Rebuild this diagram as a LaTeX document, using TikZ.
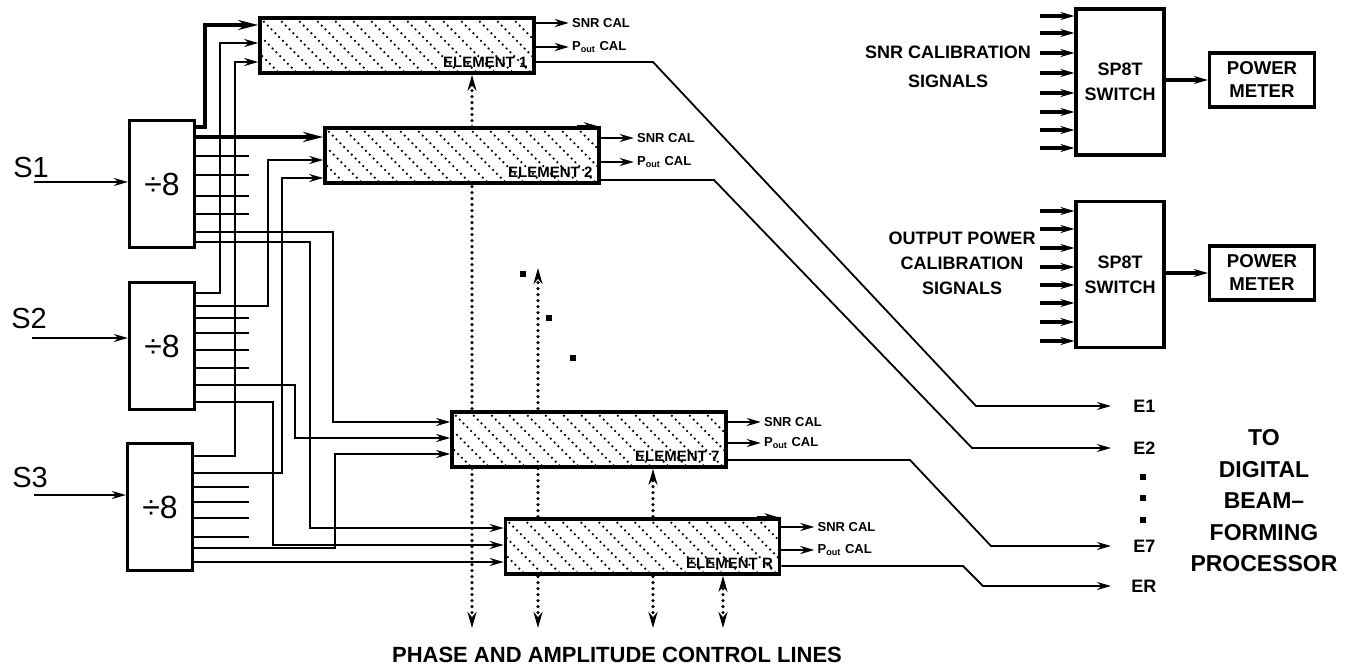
\documentclass[tikz,border=0pt]{standalone}
\usepackage{fontspec}
\setmainfont{Liberation Sans}
\usetikzlibrary{arrows.meta,calc,positioning,backgrounds}
\tikzset{box/.style={draw,line width=1.6pt,fill=white,inner sep=1pt,align=center},
  divider/.style={box,minimum width=32.5pt,minimum height=63.5pt,font=\fontsize{16}{17}\selectfont},
  elem/.style={box,line width=1.8pt,minimum width=137pt,minimum height=27.5pt,
    path picture={\foreach \k in {-90,-72,...,290}
      \draw[line width=1.25pt,line cap=round,dash pattern=on 0pt off 2.7pt]
        ($(path picture bounding box.north west)+(\k,0)$) -- ++(80,80);}},
  swbox/.style={box,minimum width=44pt,minimum height=73pt,font=\bfseries\fontsize{9}{12.5}\selectfont},
  meter/.style={box,minimum width=52.5pt,minimum height=27pt,font=\bfseries\fontsize{9.3}{11.5}\selectfont},
  wire/.style={line width=0.9pt},
  fat/.style={line width=1.7pt},
  arr/.style={-{Stealth[length=7pt,width=4pt]}},
  bigarr/.style={-{Stealth[length=10pt,width=5pt]}},
  ctrl/.style={line width=1.8pt,line cap=round,dash pattern=on 0pt off 3pt,
    {Stealth[length=8pt,width=4.5pt]}-{Stealth[length=8pt,width=4.5pt]}},
  cal/.style={font=\bfseries\fontsize{6.5}{7}\selectfont,anchor=west,inner sep=1pt},
  tag/.style={font=\bfseries\fontsize{7.5}{8}\selectfont,anchor=south east,inner sep=0pt},
  etag/.style={font=\bfseries\fontsize{9}{10}\selectfont,anchor=west,inner sep=0pt},
  sname/.style={font=\fontsize{14.5}{15}\selectfont,inner sep=0pt},
  hint/.style={font=\bfseries\fontsize{9}{14.5}\selectfont,align=center},
  sqdot/.style={fill,minimum size=2.6pt,inner sep=0pt}}
\begin{document}
\begin{tikzpicture}[x=0.5pt,y=-0.5pt]
\useasboundingbox (0,0) rectangle (1355,668);
% power dividers
\node[divider] (d1) at (162,184) {÷8};
\node[divider] (d2) at (162,346) {÷8};
\node[divider] (d3) at (160,507) {÷8};
\node[sname] (s1) at (31,168) {S1};
\node[sname] (s2) at (29,319) {S2};
\node[sname] (s3) at (30,478) {S3};
\draw[wire,line width=1.2pt,arr] ($(d1.west |- 0,182)+(-94,0)$) -- (d1.west |- 0,182);
\draw[wire,line width=1.2pt,arr] ($(d2.west |- 0,338)+(-96,0)$) -- (d2.west |- 0,338);
\draw[wire,line width=1.2pt,arr] ($(d3.west |- 0,495)+(-92,0)$) -- (d3.west |- 0,495);
% element modules
\node[elem] (e1) at (397,45.5) {};
\node[elem] (e2) at (462,155.5) {};
\node[elem] (e7) at (589,439.5) {};
\node[elem] (eR) at (642.5,546.5) {};
\node[tag] (t1) at ($(e1.south east)+(-8,-7)$) {ELEMENT 1};
\node[tag] (t2) at ($(e2.south east)+(-8,-7)$) {ELEMENT 2};
\node[tag] (t7) at ($(e7.south east)+(-8,-7)$) {ELEMENT 7};
\node[tag] (tR) at ($(eR.south east)+(-8,-7)$) {ELEMENT R};
\draw[wire,arr] ($(e2.north east)+(-24,0)$) -- ($(e2.north east)+(-3,0)$);
\draw[wire,arr] ($(eR.north east)+(-24,0)$) -- ($(eR.north east)+(-3,0)$);
% control lines
\begin{scope}[on background layer]
\coordinate (c1) at (472,628);
\coordinate (c2) at (538,628);
\coordinate (c3) at (653,628);
\coordinate (c4) at (723,628);
\draw[ctrl] (c1) -- (c1 |- e1.south);
\draw[ctrl] (c2) -- (538,268);
\draw[ctrl] (c3) -- (c3 |- e7.south);
\draw[ctrl] (c4) -- (c4 |- eR.south);
\end{scope}
% divider 1
\draw[fat,bigarr] (d1.east |- 0,127) -| (205,25) -- (e1.west |- 0,25);
\draw[fat,bigarr] (d1.east |- 0,137) -- (e2.west |- 0,137);
\foreach \y in {156,175,196,214} \draw[wire] (d1.east |- 0,\y) -- ++(53,0);
\draw[wire,arr] (d1.east |- 0,232) -| (333,422) -- (e7.west |- 0,422);
\draw[wire,arr] (d1.east |- 0,242) -| (310,528) -- (eR.west |- 0,528);
% divider 2
\draw[wire,arr] (d2.east |- 0,293) -| (220,43) -- (e1.west |- 0,43);
\draw[wire,arr] (d2.east |- 0,306) -| (268,160) -- (e2.west |- 0,160);
\foreach \y in {318,333,350,368} \draw[wire] (d2.east |- 0,\y) -- ++(53,0);
\draw[wire,arr] (d2.east |- 0,385) -| (295,438) -- (e7.west |- 0,438);
\draw[wire,arr] (d2.east |- 0,402) -| (273,545) -- (eR.west |- 0,545);
% divider 3
\draw[wire,arr] (d3.east |- 0,456) -| (235,62) -- (e1.west |- 0,62);
\draw[wire,arr] (d3.east |- 0,473) -| (282,178) -- (e2.west |- 0,178);
\foreach \y in {487,502,518,537} \draw[wire] (d3.east |- 0,\y) -- ++(55,0);
\draw[wire,arr] (d3.east |- 0,548) -| (335,454) -- (e7.west |- 0,454);
\draw[wire,arr] (d3.east |- 0,562) -- (eR.west |- 0,562);
% calibration taps
\foreach \e/\a/\b in {e1/23/47,e2/138/162,e7/422/443,eR/527/550}{
  \draw[wire,line width=1.3pt,arr] (\e.east |- 0,\a) -- ++(33,0) node[cal] (snr\e) {SNR CAL};
  \draw[wire,line width=1.3pt,arr] (\e.east |- 0,\b) -- ++(33,0) node[cal] (pout\e) {P\textsubscript{out} CAL};}
% element outputs
\node[etag] (E1) at (1133,406) {E1};
\node[etag] (E2) at (1133,448) {E2};
\node[etag] (E7) at (1133,546) {E7};
\node[etag] (ER) at (1131,586) {ER};
\draw[wire,arr,shorten >=11pt] (e1.east |- 0,62) -- (653,62) -- (976,406) -- (E1.west);
\draw[wire,arr,shorten >=11pt] (e2.east |- 0,180) -- (714,180) -- (972,448) -- (E2.west);
\draw[wire,arr,shorten >=11pt] (e7.east |- 0,460) -- (910,460) -- (991,546) -- (E7.west);
\draw[wire,arr,shorten >=10pt] (eR.east |- 0,566) -- (963,566) -- (983,586) -- (ER.west);
\foreach \y [count=\i] in {477,498,520} \node[sqdot] (v\i) at (1143,\y) {};
\foreach \x/\y [count=\i] in {523/274,549/318,573/358} \node[sqdot,minimum size=3pt] (m\i) at (\x,\y) {};
\node[font=\bfseries\fontsize{11.5}{15.75}\selectfont,align=center] (dbf) at (1264,501) {TO\\DIGITAL\\BEAM--\\FORMING\\PROCESSOR};
\node[font=\bfseries\fontsize{11}{12}\selectfont] (pal) at (617,655) {PHASE AND AMPLITUDE CONTROL LINES};
% calibration switches
\node[swbox] (sw1) at (1120,82) {SP8T\\SWITCH};
\node[meter] (pm1) at (1262,80) {POWER\\METER};
\draw[fat,arr] (sw1.east |- pm1) -- (pm1.west);
\foreach \y in {16,33,53,73,93,112,130,148}
  \draw[fat,arr] ($(sw1.west |- 0,\y)+(-34,0)$) -- (sw1.west |- 0,\y);
\node[hint] (snrsig) at (948,67) {SNR CALIBRATION\\SIGNALS};
\node[swbox] (sw2) at (1120,274.5) {SP8T\\SWITCH};
\node[meter] (pm2) at (1262,273) {POWER\\METER};
\draw[fat,arr] (sw2.east |- pm2) -- (pm2.west);
\foreach \y in {211,229,248,267,285,303,322,341}
  \draw[fat,arr] ($(sw2.west |- 0,\y)+(-34,0)$) -- (sw2.west |- 0,\y);
\node[hint,font=\bfseries\fontsize{9}{12.5}\selectfont] (outsig) at (962,263) {OUTPUT POWER\\CALIBRATION\\SIGNALS};
\end{tikzpicture}
\end{document}
